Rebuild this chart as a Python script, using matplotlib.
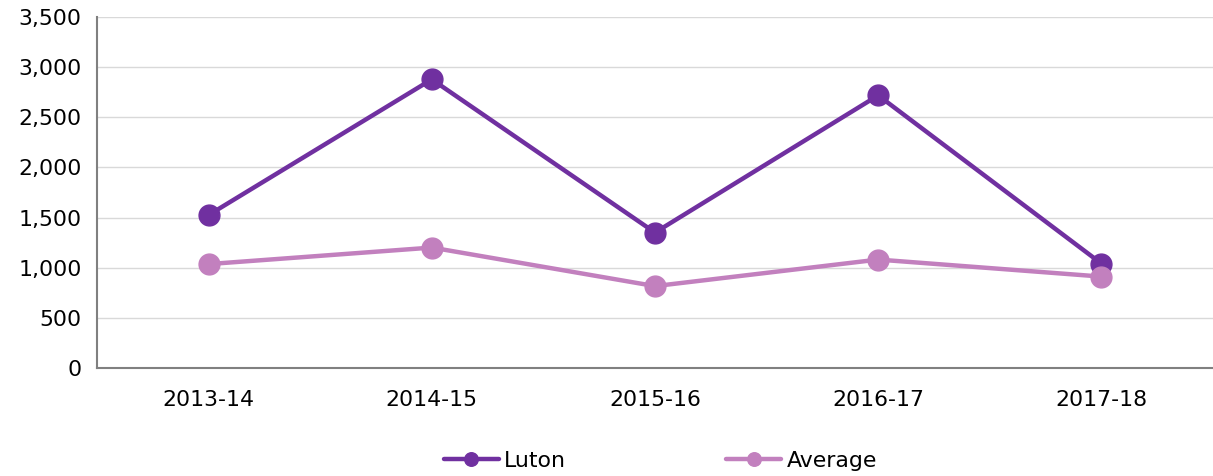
import matplotlib
matplotlib.use("Agg")
import matplotlib.pyplot as plt

categories = ["2013-14", "2014-15", "2015-16", "2016-17", "2017-18"]
luton = [1525, 2880, 1350, 2720, 1040]
average = [1035, 1200, 815, 1080, 910]
yticks = [0, 500, 1000, 1500, 2000, 2500, 3000, 3500]

plt.rcParams['font.family'] = ['DejaVu Sans']
fig = plt.figure(figsize=(12.13, 4.76), dpi=100)
ax = fig.add_axes([97/1213, 1 - 367.7/476, 1 - 97/1213, (367.7 - 17.3)/476])

x = list(range(len(categories)))
ax.plot(x, luton, color="#7030A0", lw=3.2, marker="o", ms=15, label="Luton", solid_capstyle="round")
ax.plot(x, average, color="#C280BE", lw=3.2, marker="o", ms=15, label="Average", solid_capstyle="round")

ax.set_xlim(-0.5, 4.5)
ax.set_ylim(0, 3500)
ax.set_yticks(yticks)
ax.set_yticklabels([f"{v:,}" for v in yticks])
ax.set_xticks(x)
ax.set_xticklabels(categories)
ax.tick_params(axis="both", length=0, labelsize=15.8, colors="#000000")
ax.tick_params(axis="x", pad=16)
ax.tick_params(axis="y", pad=11)
ax.grid(axis="y", color="#D9D9D9", lw=1)
ax.set_axisbelow(True)
for s in ["top", "right"]:
    ax.spines[s].set_visible(False)
for s in ["left", "bottom"]:
    ax.spines[s].set_color("#808080")
    ax.spines[s].set_linewidth(1.5)

ax.legend(loc="center", bbox_to_anchor=(0.505, -0.266), ncol=2, frameon=False,
          fontsize=15.8, handlelength=2.5, handletextpad=0.25, columnspacing=7.3,
          markerscale=0.65)

fig.savefig("out.png", dpi=100)
